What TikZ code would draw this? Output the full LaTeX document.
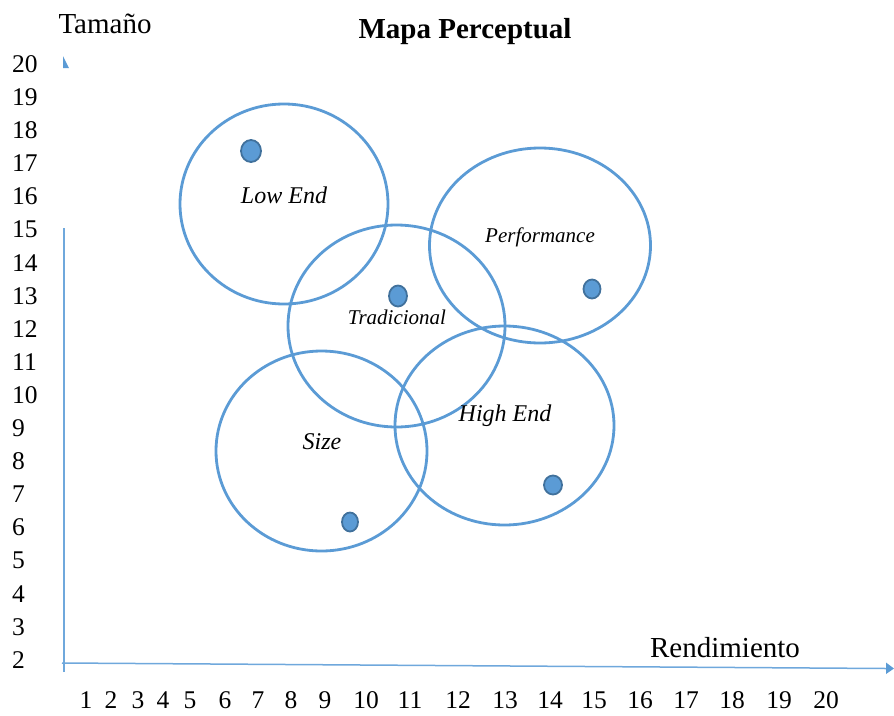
\documentclass[tikz,border=0pt]{standalone}
\usepackage{fontspec}
\setmainfont{Liberation Serif}
\usetikzlibrary{shapes.geometric}
\definecolor{ringblue}{HTML}{5B9BD5}
\definecolor{dotedge}{HTML}{41719C}
\definecolor{axisblue}{HTML}{6FA8DC}
\tikzset{
  ring/.style={ellipse, draw=ringblue, line width=2.8pt, inner sep=0pt, fill=none},
  dot/.style={ellipse, draw=dotedge, fill=ringblue, line width=1.8pt, inner sep=0pt},
  seglabel/.style={font=\itshape\fontsize{24}{24}\selectfont, inner sep=0pt},
  seglabelsm/.style={font=\itshape\fontsize{21}{21}\selectfont, inner sep=0pt},
  ticklbl/.style={font=\fontsize{25.5}{25.5}\selectfont, inner sep=0pt},
  axistitle/.style={font=\fontsize{29}{29}\selectfont, inner sep=0pt},
  axisline/.style={draw=axisblue, line width=1.5pt},
}
\begin{document}
\begin{tikzpicture}[x=1pt, y=-1pt]
\useasboundingbox (0,0) rectangle (894,715);

% titles
\node[font=\bfseries\fontsize{29}{29}\selectfont, inner sep=0pt] (title) at (465,32) {Mapa Perceptual};
\node[axistitle] (ytitle) at (105,24) {Tamaño};
\node[axistitle] (xtitle) at (725,648) {Rendimiento};

% axes
\coordinate (ybot) at (64,672);
\coordinate (ytop) at (64,228);
\coordinate (xleft) at (62,663);
\coordinate (xright) at (886,668.5);
\draw[axisline] (ybot) -- (ytop);
\draw[axisline] (xleft) -- (xright);
\fill[ringblue] (63,56) -- (63,68) -- (69,68) -- cycle;
\fill[ringblue] (886,662.5) -- (894,668.5) -- (886,674) -- cycle;

% vertical tick numbers 20 ... 2
\foreach \v [count=\i from 0] in {20,19,...,2} {
  \node[ticklbl, anchor=west] (yl\v) at (12,{64+\i*33.1}) {\v};
}
% horizontal tick numbers 1 ... 20
\foreach \v/\px in {1/86,2/111,3/138,4/163,5/190,6/225,7/258,8/291,9/325,10/366,
                    11/410,12/458,13/505,14/550,15/594,16/640,17/686,18/732,19/779,20/826} {
  \node[ticklbl] (xl\v) at (\px,700) {\v};
}

% segment circles
\node[ring, minimum width=208pt, minimum height=200pt] (lowend) at (284,204) {};
\node[ring, minimum width=217pt, minimum height=202pt] (trad) at (396.5,326) {};
\node[ring, minimum width=221pt, minimum height=195pt] (perf) at (540,245.5) {};
\node[ring, minimum width=211pt, minimum height=200pt] (size) at (321.5,451) {};
\node[ring, minimum width=219pt, minimum height=199pt] (high) at (504.5,425.5) {};

% segment names
\node[seglabel] (lowendtxt) at (284,195) {Low End};
\node[seglabelsm] (perftxt) at (540,237) {Performance};
\node[seglabelsm] (tradtxt) at (397,317) {Tradicional};
\node[seglabel] (sizetxt) at (322,442) {Size};
\node[seglabel] (hightxt) at (505,416) {High End};

% product positions
\node[dot, minimum width=20pt, minimum height=22pt] (plow) at (251,151) {};
\node[dot, minimum width=18pt, minimum height=21pt] (ptrad) at (398,296) {};
\node[dot, minimum width=17pt, minimum height=19pt] (pperf) at (592,289) {};
\node[dot, minimum width=16pt, minimum height=19pt] (psize) at (350,522) {};
\node[dot, minimum width=18pt, minimum height=19pt] (phigh) at (553,485) {};
\end{tikzpicture}
\end{document}
